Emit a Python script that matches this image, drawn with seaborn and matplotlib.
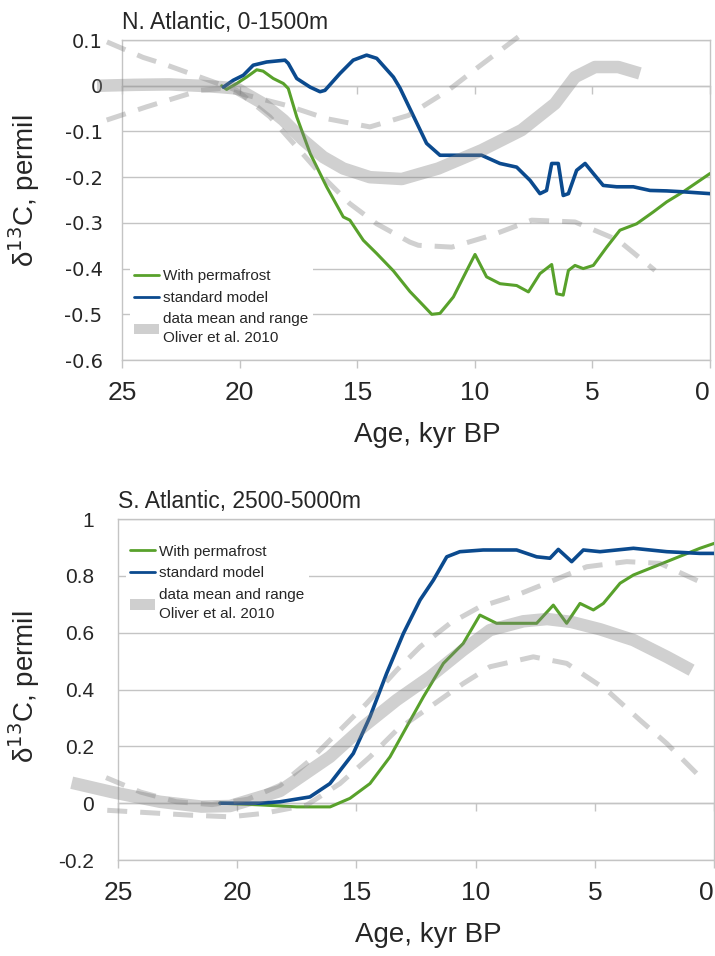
import matplotlib
matplotlib.use("Agg")
import matplotlib.pyplot as plt
import seaborn as sns
from matplotlib.lines import Line2D
from matplotlib.patches import Patch

# ---- N. Atlantic, 0-1500m (top panel) ----
na_age_perm = [20.76, 20.55, 20.12, 19.70, 19.27, 19.0, 18.57, 18.14, 17.93, 17.57, 17.0, 16.30,
               15.59, 15.31, 14.74, 14.17, 13.46, 12.76, 12.2, 11.83, 11.48, 10.91, 10.34, 9.99,
               9.50, 8.93, 8.22, 7.72, 7.23, 6.73, 6.52, 6.24, 6.02, 5.74, 5.39, 4.96, 4.39,
               3.83, 3.12, 2.41, 1.84, 1.14, 0.0]
na_perm = [0.0, -0.008, 0.005, 0.019, 0.035, 0.032, 0.016, 0.005, -0.006, -0.068, -0.148, -0.221,
           -0.287, -0.294, -0.338, -0.367, -0.405, -0.450, -0.48, -0.500, -0.498, -0.462, -0.404, -0.369,
           -0.418, -0.433, -0.437, -0.451, -0.411, -0.391, -0.455, -0.458, -0.404, -0.393, -0.400, -0.393, -0.353,
           -0.316, -0.302, -0.276, -0.254, -0.232, -0.192]

na_age_std = [20.69, 20.27, 19.84, 19.42, 18.85, 18.07, 17.93, 17.57, 17.0, 16.58, 16.37, 15.73,
              15.17, 14.60, 14.17, 13.46, 13.18, 12.62, 12.05, 11.48, 10.63, 9.71, 8.93, 8.22,
              7.65, 7.23, 6.95, 6.73, 6.45, 6.24, 6.02, 5.67, 5.31, 4.96, 4.54, 3.97, 3.26,
              2.55, 1.84, 1.14, 0.0]
na_std = [-0.003, 0.012, 0.023, 0.045, 0.052, 0.056, 0.049, 0.016, -0.003, -0.013, -0.010, 0.027,
          0.056, 0.067, 0.060, 0.019, -0.005, -0.065, -0.126, -0.152, -0.152, -0.152, -0.170, -0.178,
          -0.207, -0.236, -0.229, -0.170, -0.170, -0.240, -0.236, -0.185, -0.170, -0.192, -0.218, -0.221, -0.221,
          -0.229, -0.230, -0.232, -0.236]

na_mean_age = [26.06, 24.5, 23.0, 21.7, 20.8, 20.12, 19.0, 18.14, 17.29, 16.44, 15.59, 14.46,
               13.1, 11.55, 9.71, 8.01, 6.59, 5.74, 4.89, 3.90, 2.98]
na_mean = [0.0, 0.002, 0.003, 0.0, -0.003, -0.006, -0.039, -0.075, -0.119, -0.156, -0.181, -0.200,
           -0.204, -0.181, -0.141, -0.097, -0.039, 0.019, 0.041, 0.041, 0.027]

na_hi_age = [25.65, 23.95, 21.68, 20.8, 18.0, 16.30, 14.46, 12.83, 11.13, 9.85, 8.15]
na_hi = [-0.075, -0.046, -0.010, -0.006, -0.043, -0.072, -0.090, -0.065, -0.010, 0.041, 0.107]

na_lo_age = [25.64, 24.1, 23.3, 21.68, 20.12, 18.71, 17.57, 16.44, 15.31, 14.17, 12.76, 12.40,
             10.98, 9.28, 7.58, 5.74, 3.90, 2.34]
na_lo = [0.096, 0.062, 0.049, 0.019, -0.010, -0.068, -0.134, -0.200, -0.258, -0.302, -0.342, -0.349,
         -0.353, -0.327, -0.294, -0.298, -0.338, -0.404]

na_yticks = [-0.6, -0.5, -0.4, -0.3, -0.2, -0.1, 0.0, 0.1]
na_yticklabels = ["-0.6", "-0.5", "-0.4", "-0.3", "-0.2", "-0.1", "0", "0.1"]

# ---- S. Atlantic, 2500-5000m (bottom panel) ----
sa_age_perm = [20.72, 19.04, 17.5, 16.1, 15.27, 14.43, 13.59, 12.89, 12.19, 11.35, 10.52, 9.82,
               9.12, 8.28, 7.44, 6.74, 6.18, 5.62, 5.06, 4.64, 3.94, 3.38, 1.98, 0.59, 0.0]
sa_perm = [0.0, -0.006, -0.013, -0.013, 0.017, 0.069, 0.163, 0.269, 0.374, 0.492, 0.562, 0.662,
           0.633, 0.633, 0.633, 0.697, 0.633, 0.703, 0.680, 0.703, 0.774, 0.803, 0.850, 0.897, 0.914]

sa_age_std = [20.72, 19.04, 18.2, 16.95, 16.11, 15.13, 14.43, 13.73, 13.03, 12.33, 11.77, 11.21,
              10.66, 9.68, 8.28, 7.44, 6.88, 6.53, 5.97, 5.48, 4.78, 3.38, 1.98, 0.59, 0.0]
sa_std = [0.0, 0.0, 0.005, 0.022, 0.069, 0.175, 0.304, 0.457, 0.597, 0.715, 0.785, 0.867,
          0.885, 0.891, 0.891, 0.867, 0.862, 0.893, 0.850, 0.891, 0.885, 0.897, 0.885, 0.879, 0.879]

sa_mean_age = [26.94, 25.3, 23.24, 21.5, 20.3, 18.2, 16.11, 14.71, 13.31, 11.91, 10.52, 9.40,
               8.0, 7.0, 6.0, 4.78, 3.38, 1.98, 0.94]
sa_mean = [0.072, 0.040, 0.005, -0.012, -0.010, 0.043, 0.163, 0.269, 0.363, 0.445, 0.539, 0.609,
           0.640, 0.648, 0.638, 0.612, 0.574, 0.515, 0.468]

sa_hi_age = [25.5, 24.05, 22.55, 21.05, 19.55, 18.2, 16.95, 15.69, 14.57, 13.31, 12.33, 11.07,
             9.82, 8.28, 6.88, 5.34, 3.66, 2.27, 0.59]
sa_hi = [0.090, 0.039, 0.005, -0.005, 0.014, 0.063, 0.151, 0.257, 0.351, 0.468, 0.550, 0.633,
         0.691, 0.732, 0.779, 0.832, 0.850, 0.844, 0.779]

sa_lo_age = [25.45, 23.4, 22.0, 20.3, 18.9, 17.09, 15.69, 14.43, 13.31, 11.91, 10.52, 9.40,
             7.58, 6.18, 4.50, 3.10, 1.98, 0.59]
sa_lo = [-0.025, -0.035, -0.042, -0.048, -0.036, -0.007, 0.069, 0.163, 0.257, 0.339, 0.421, 0.480,
         0.515, 0.492, 0.398, 0.292, 0.210, 0.093]

sa_yticks = [-0.2, 0.0, 0.2, 0.4, 0.6, 0.8, 1.0]
sa_yticklabels = ["-0.2", "0", "0.2", "0.4", "0.6", "0.8", "1"]

age_ticks = [25, 20, 15, 10, 5, 0]
age_ticklabels = ["25", "20", "15", "10", "5", "0"]

legend_labels = ["With permafrost", "standard model", "data mean and range\nOliver et al. 2010"]

sns.set_theme(style="white")
plt.rcParams['font.family'] = ['Liberation Sans', 'DejaVu Sans']

green = '#58a12b'
blue = '#0b4a8e'
band = '#808080'
grid = '#c4c4c4'

fig = plt.figure(figsize=(7.15, 9.56), dpi=100)
ax1 = fig.add_axes([0.1706, 0.6234, 0.8224, 0.3347])
ax2 = fig.add_axes([0.1650, 0.1004, 0.8336, 0.3567])


def draw_panel(ax, age_perm, perm, age_std, std, mean_age, mean, hi_age, hi, lo_age, lo):
    sns.lineplot(x=age_perm, y=perm, ax=ax, color=green, lw=2.2, sort=False, zorder=3)
    sns.lineplot(x=age_std, y=std, ax=ax, color=blue, lw=2.6, sort=False, zorder=3)
    sns.lineplot(x=mean_age, y=mean, ax=ax, color=band, alpha=0.37, lw=9, sort=False,
                 clip_on=False, zorder=4, solid_capstyle='butt')
    for a, v in [(hi_age, hi), (lo_age, lo)]:
        sns.lineplot(x=a, y=v, ax=ax, color=band, alpha=0.37, lw=3.6, sort=False,
                     clip_on=False, zorder=4)
        ax.lines[-1].set_dashes((4, 2.6))
        ax.lines[-1].set_dash_capstyle('butt')


def style_panel(ax, yticks, yticklabels, ylim, title, ylab_xy, ytick_font, ytick_size, ytick_pad):
    ax.set_xlim(25, 0)
    ax.set_ylim(*ylim)
    ax.set_xticks(age_ticks)
    ax.set_xticklabels(age_ticklabels, fontsize=19)
    # keep the last "0" inside the figure
    ax.get_xticklabels()[-1].set_horizontalalignment('right')
    ax.set_yticks(yticks)
    ax.set_yticklabels(yticklabels, fontsize=ytick_size, family=ytick_font)
    ax.tick_params(axis='x', length=6, width=1, color=grid, pad=9, direction='out', bottom=True)
    ax.tick_params(axis='y', length=0, pad=ytick_pad)
    ax.yaxis.grid(True, color=grid, lw=1)
    ax.xaxis.grid(False)
    for s in ax.spines.values():
        s.set_color(grid)
        s.set_linewidth(1)
        s.set_visible(True)
    # the zero line carries tick marks as well
    sec = ax.secondary_xaxis(0, transform=ax.transData)
    sec.set_xticks(age_ticks)
    sec.tick_params(length=6, width=1, color=grid, labelbottom=False, labeltop=False)
    sec.spines['bottom'].set_color(grid)
    sec.spines['bottom'].set_linewidth(1)
    ax.set_xlabel("Age, kyr BP", fontsize=20, labelpad=12, x=0.52)
    ax.set_ylabel("δ$^{13}$C, permil", fontsize=20)
    ax.yaxis.set_label_coords(*ylab_xy)
    ax.set_title(title, loc='left', fontsize=16.5, pad=8)


draw_panel(ax1, na_age_perm, na_perm, na_age_std, na_std, na_mean_age, na_mean,
           na_hi_age, na_hi, na_lo_age, na_lo)
style_panel(ax1, na_yticks, na_yticklabels, (-0.6, 0.1), "N. Atlantic, 0-1500m",
            (-0.136, 0.53), 'DejaVu Sans', 14, 14)

draw_panel(ax2, sa_age_perm, sa_perm, sa_age_std, sa_std, sa_mean_age, sa_mean,
           sa_hi_age, sa_hi, sa_lo_age, sa_lo)
style_panel(ax2, sa_yticks, sa_yticklabels, (-0.2, 1.0), "S. Atlantic, 2500-5000m",
            (-0.128, 0.507), 'Liberation Sans', 15, 17)

handles = [Line2D([], [], color=green, lw=2),
           Line2D([], [], color=blue, lw=2),
           Patch(facecolor='#cfcfcf', edgecolor='none')]
for ax, anchor in [(ax1, (0.0, 0.322)), (ax2, (0.0, 0.961))]:
    leg = ax.legend(handles, legend_labels, loc='upper left', bbox_to_anchor=anchor,
                    frameon=True, facecolor='white', edgecolor='none', framealpha=1,
                    fontsize=11, handlelength=1.6, handletextpad=0.3, labelspacing=0.5,
                    borderpad=0.3)
    for t in leg.get_texts():
        t.set_linespacing(1.45)

plt.savefig("out.png", dpi=100)
